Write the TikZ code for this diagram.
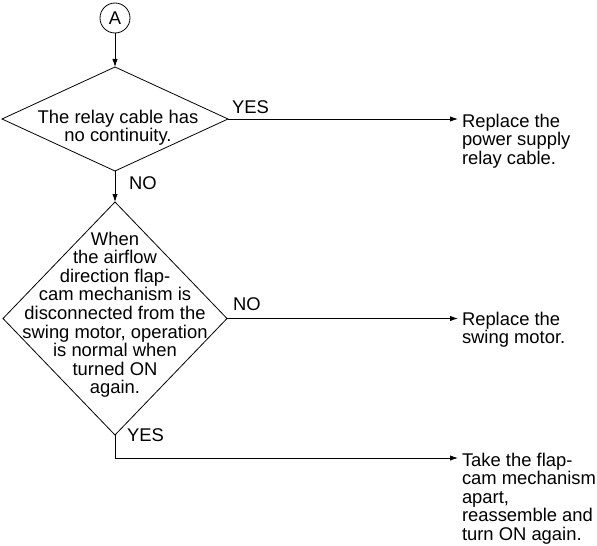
\documentclass[tikz,border=0pt]{standalone}
\usepackage{fontspec}
\setmainfont{Liberation Sans}
\usetikzlibrary{shapes.geometric,arrows.meta}

\begin{document}
\begin{tikzpicture}
    [x=0.75pt, y=-0.75pt, line width=0.6pt,
     every node/.style={inner sep=0pt, outer sep=0pt, font=\fontsize{13.8}{13.9}\selectfont},
     dia/.style={diamond, draw},
     txt/.style={align=center},
     res/.style={align=left, anchor=north west, inner xsep=3pt},
     lbl/.style={anchor=base west},
     arr/.style={-{Latex[length=6pt,width=4pt]}}]
    \useasboundingbox (0,0) rectangle (597,546);

    \node[circle, draw, minimum size=22.5pt] (a) at (115,18) {A};

    \node[dia, minimum width=169.5pt, minimum height=78pt] (q1) at (115,119) {};
    \node[txt, anchor=north] (q1t) at (118,110) {The relay cable has\\no continuity.};

    \node[dia, minimum width=168pt, minimum height=174.75pt] (q2) at (115,318.5) {};
    \node[txt, anchor=north] (q2t) at (115,232) {When\\the airflow\\direction flap-\\cam mechanism is\\disconnected from the\\swing motor, operation\\is normal when\\turned ON\\again.};

    \node[res] (r1) at (458,114) {Replace the\\power supply\\relay cable.};
    \node[res] (r2) at (458,312) {Replace the\\swing motor.};
    \node[res] (r3) at (458,453) {Take the flap-\\cam mechanism\\apart,\\reassemble and\\turn ON again.};

    \node[lbl] (y1) at (232,113) {YES};
    \node[lbl] (n1) at (129,189) {NO};
    \node[lbl] (n2) at (233,310) {NO};
    \node[lbl] (y2) at (127,441) {YES};

    \coordinate (c3) at (115,458);

    \draw[arr] (a) -- (q1);
    \draw[arr] (q1.east) -- (q1.east -| r1.west);
    \draw[arr] (q1) -- (q2);
    \draw[arr] (q2.east) -- (q2.east -| r2.west);
    \draw[arr] (q2.south) -- (c3) -- (c3 -| r3.west);
  \end{tikzpicture}
\end{document}
